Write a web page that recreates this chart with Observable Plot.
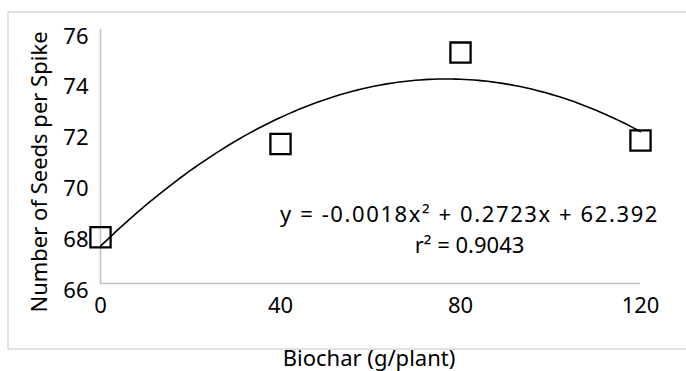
<!DOCTYPE html>
<html>
<head>
<meta charset="utf-8">
<script src="https://cdn.jsdelivr.net/npm/d3@7"></script>
<script src="https://cdn.jsdelivr.net/npm/@observablehq/plot@0.6"></script>
<style>
  html, body { margin: 0; padding: 0; background: #fff; }
  #chart { position: relative; width: 686px; height: 371px; overflow: hidden; }
</style>
</head>
<body>
<div id="chart"></div>
<script>
// ---- data ----
const biochar = [0, 40, 80, 120];                 // g/plant
const seeds = [67.82, 71.49, 75.09, 71.63];        // number of seeds per spike
const xTicks = [0, 40, 80, 120];
const yTicks = [66, 68, 70, 72, 74, 76];
const eqLines = ["y = -0.0018x\u00B2 + 0.2723x + 62.392", "r\u00B2 = 0.9043"];
const eqX = [82, 82];
const eqY = [68.70, 67.48];
const xTitle = "Biochar (g/plant)";
const yTitle = "Number of Seeds per Spike";

// ---- quadratic least-squares trendline fitted to the data ----
function quadFit(xs, ys) {
  const n = xs.length;
  let s = [0,0,0,0,0], t = [0,0,0];
  for (let i = 0; i < n; i++) {
    const x = xs[i], y = ys[i];
    for (let k = 0; k <= 4; k++) s[k] += Math.pow(x, k);
    for (let k = 0; k <= 2; k++) t[k] += y * Math.pow(x, k);
  }
  const A = [[s[0], s[1], s[2], t[0]], [s[1], s[2], s[3], t[1]], [s[2], s[3], s[4], t[2]]];
  for (let i = 0; i < 3; i++) {
    let p = i;
    for (let r = i + 1; r < 3; r++) if (Math.abs(A[r][i]) > Math.abs(A[p][i])) p = r;
    [A[i], A[p]] = [A[p], A[i]];
    for (let r = 0; r < 3; r++) {
      if (r === i) continue;
      const f = A[r][i] / A[i][i];
      for (let c = i; c < 4; c++) A[r][c] -= f * A[i][c];
    }
  }
  return [A[0][3] / A[0][0], A[1][3] / A[1][1], A[2][3] / A[2][2]];
}
const [c0, c1, c2] = quadFit(biochar, seeds);
const trend = d3.range(0, 120.5, 1).map(x => ({x, y: c0 + c1 * x + c2 * x * x}));

const points = biochar.map((x, i) => ({x, y: seeds[i]}));
const eqMain = [{t: eqLines[0], x: eqX[0], y: eqY[0]}];
const eqR2 = [{t: eqLines[1], x: eqX[1], y: eqY[1]}];

const FONT = "'Noto Sans', 'Open Sans', sans-serif";
const FS = 22;

const plot = Plot.plot({
  width: 686,
  height: 371,
  marginLeft: 100,
  marginRight: 46,
  marginTop: 29,
  marginBottom: 88,
  style: { fontFamily: FONT, fontSize: FS + "px", color: "#000", background: "transparent" },
  x: { domain: [0, 120] },
  y: { domain: [66, 76] },
  marks: [
    Plot.ruleX([0], { stroke: "#bfbfbf", strokeWidth: 1.5 }),
    Plot.ruleY([66], { stroke: "#bfbfbf", strokeWidth: 1.5 }),
    Plot.axisX({ ticks: xTicks, tickSize: 0, tickPadding: 14, label: null, fontSize: FS }),
    Plot.axisY({ ticks: yTicks, tickSize: 0, tickPadding: 12, label: null, dy: 7, fontSize: FS }),
    Plot.dot(points, { x: "x", y: "y", symbol: "square", r: 11.4, stroke: "#000", strokeWidth: 2.3, fill: "none" }),
    Plot.line(trend, { x: "x", y: "y", stroke: "#000", strokeWidth: 1.6 }),
    Plot.text(eqMain, { x: "x", y: "y", text: "t", fontSize: FS, fill: "#000", textAnchor: "middle" }),
    Plot.text(eqR2, { x: "x", y: "y", text: "t", fontSize: FS, fill: "#000", textAnchor: "middle" })
  ]
});

const svg = d3.select(plot);
// widen the equation text slightly, as in the reference
svg.selectAll("text").filter(function () { return this.textContent.startsWith("y ="); })
  .attr("letter-spacing", "1.6px");
// outer chart-area border
svg.insert("rect", ":first-child")
  .attr("x", 8).attr("y", 12).attr("width", 700).attr("height", 337)
  .attr("fill", "none").attr("stroke", "#d9d9d9").attr("stroke-width", 1.5);
// axis titles
svg.append("text")
  .attr("transform", "translate(41,172) rotate(-90)")
  .attr("text-anchor", "middle").attr("dominant-baseline", "middle")
  .attr("font-size", FS).attr("fill", "#000")
  .text(yTitle);
svg.append("text")
  .attr("x", 369).attr("y", 360)
  .attr("text-anchor", "middle").attr("dominant-baseline", "middle")
  .attr("font-size", FS).attr("fill", "#000")
  .text(xTitle);

document.getElementById("chart").appendChild(plot);
</script>
</body>
</html>
